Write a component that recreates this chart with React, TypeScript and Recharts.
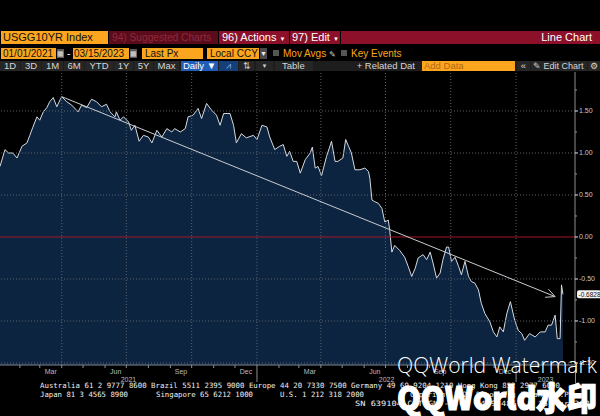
import React from 'react';
import { ComposedChart, Area, XAxis, YAxis, ReferenceLine } from 'recharts';

// Day offsets counted from the first trading day (2021-01-04)
const dayOffsets = [
  0, 7, 12, 18, 24, 31, 38, 42, 46, 52,
  56, 61, 66, 70, 75, 80, 85, 87, 94, 101,
  110, 115, 122, 129, 136, 143, 150, 155, 162, 164,
  169, 174, 181, 185, 190, 196, 202, 209, 214, 221,
  228, 235, 242, 246, 254, 261, 265, 272, 279, 284,
  291, 298, 305, 310, 315, 324, 329, 333, 340, 347,
  357, 362, 369, 376, 380, 387, 394, 399, 404, 408,
  413, 418, 423, 430, 437, 440, 444, 448, 453, 460,
  464, 467, 472, 476, 483, 487, 491, 495, 500, 507,
  514, 519, 521, 524, 528, 533, 538, 542, 547, 549,
  552, 556, 563, 570, 575, 580, 585, 589, 596, 601,
  606, 610, 615, 620, 624, 629, 632, 636, 641, 646,
  650, 655, 660, 664, 669, 674, 678, 683, 690, 695,
  700, 704, 709, 714, 719, 725, 730, 735, 739, 746,
  754, 761, 768, 772, 777, 782, 785, 789, 791, 793,
];

const indexValues = [
  0.84, 1.04, 1.0, 1.0, 0.94, 1.08, 1.12, 1.21, 1.3, 1.43,
  1.39, 1.49, 1.54, 1.61, 1.66, 1.55, 1.64, 1.67, 1.61, 1.57,
  1.49, 1.57, 1.54, 1.64, 1.61, 1.55, 1.58, 1.49, 1.43, 1.49,
  1.39, 1.43, 1.37, 1.27, 1.33, 1.14, 1.21, 1.19, 1.12, 1.27,
  1.19, 1.29, 1.25, 1.29, 1.25, 1.29, 1.43, 1.45, 1.53, 1.41,
  1.59, 1.51, 1.45, 1.33, 1.47, 1.47, 1.33, 1.12, 1.23, 1.18,
  1.21, 1.16, 1.33, 1.31, 1.19, 1.04, 1.08, 1.1, 0.96, 1.02,
  0.9, 0.9, 0.76, 0.92, 1.0, 1.07, 0.82, 0.84, 0.73, 0.96,
  1.06, 1.14, 0.9, 0.9, 0.94, 1.16, 1.08, 1.0, 0.8, 0.8,
  0.82, 0.78, 0.7, 0.44, 0.42, 0.4, 0.34, 0.18, 0.2, 0.08,
  -0.18, -0.1, -0.16, -0.24, -0.35, -0.47, -0.37, -0.25, -0.21, -0.27,
  -0.18, -0.31, -0.49, -0.43, -0.27, -0.12, -0.12, -0.29, -0.24, -0.35,
  -0.45, -0.29, -0.47, -0.53, -0.55, -0.63, -0.79, -0.91, -1.01, -1.13,
  -1.19, -1.07, -1.13, -0.91, -0.77, -0.99, -1.11, -1.15, -1.23, -1.15,
  -1.19, -1.13, -1.13, -1.05, -1.05, -0.93, -1.21, -1.21, -0.57, -0.6828,
];

const lastValue = -0.6828;

// Trend arrow (drawn on the chart): from the 2021 peak to the latest level
const trendStart = { day: 87, value: 1.67 };
const trendEnd = { day: 782, value: -0.71 };

// Month starts (day offsets) used for the small axis ticks
const monthStarts = [28, 56, 87, 117, 148, 178, 209, 240, 270, 301, 331, 362, 393, 421, 452, 482, 513, 543, 574, 605, 635, 666, 696, 727, 758, 786];
const yearStarts = [362, 727];
// Labelled months: name, start and end offsets
const monthLabelNames = ['Mar', 'Jun', 'Sep', 'Dec', 'Mar', 'Jun', 'Sep', 'Dec'];
const monthLabelStarts = [56, 148, 240, 331, 421, 513, 605, 696];
const monthLabelEnds = [87, 178, 270, 362, 452, 543, 635, 727];
const yearLabelNames = ['2021', '2022', '2023'];
const yearLabelStarts = [0, 362, 727];
const yearLabelEnds = [362, 727, 810];

const yTicks = [-1.5, -1.25, -1, -0.75, -0.5, -0.25, 0, 0.25, 0.5, 0.75, 1, 1.25, 1.5, 1.75];
const yGridValues = [1.5, 1, 0.5, -0.5, -1, -1.5];

const chartData = dayOffsets.map((d, i) => ({ day: d, value: indexValues[i] }));

type TickKind = { type: 'tick' | 'month' | 'year'; label?: string; yearStart?: boolean };
const tickKinds = new Map<number, TickKind>();
monthStarts.forEach((m) => tickKinds.set(m, { type: 'tick', yearStart: yearStarts.includes(m) }));
monthLabelNames.forEach((n, i) => tickKinds.set((monthLabelStarts[i] + monthLabelEnds[i]) / 2, { type: 'month', label: n }));
yearLabelNames.forEach((n, i) => tickKinds.set((yearLabelStarts[i] + yearLabelEnds[i]) / 2, { type: 'year', label: n }));
const xTicks = Array.from(tickKinds.keys()).sort((a, b) => a - b);

const XTick = (props: any) => {
  const { x, y, payload } = props;
  const k = tickKinds.get(payload.value);
  if (!k) return null;
  if (k.type === 'tick') {
    return <line x1={x} x2={x} y1={y} y2={y + (k.yearStart ? 17 : 3)} stroke="#8a8f96" strokeWidth={1} />;
  }
  if (k.type === 'month') {
    return (
      <text x={x} y={y + 9} textAnchor="middle" fontSize={7} fill="#b9bcc0" fontFamily="Liberation Sans">
        {k.label}
      </text>
    );
  }
  return (
    <text x={x} y={y + 16.5} textAnchor="middle" fontSize={7} fill="#b9bcc0" fontFamily="Liberation Sans">
      {k.label}
    </text>
  );
};

const YTick = (props: any) => {
  const { x, y, payload } = props;
  const v = payload.value as number;
  const major = Math.abs(v * 2 - Math.round(v * 2)) < 1e-6;
  return (
    <g>
      <line x1={x} x2={x + (major ? 3 : 2)} y1={y} y2={y} stroke={major ? '#e6e6e6' : '#9a9a9a'} strokeWidth={1} />
      {major && (
        <text x={x + 4} y={y + 2.5} fontSize={7} fill="#c9c9c9" fontFamily="Liberation Sans">
          {v.toFixed(2)}
        </text>
      )}
    </g>
  );
};

const TrendArrow = (props: any) => {
  const { x1, y1, x2, y2 } = props;
  if ([x1, y1, x2, y2].some((n) => typeof n !== 'number' || isNaN(n))) return null;
  const ang = Math.atan2(y2 - y1, x2 - x1) + Math.PI;
  const len = 10;
  const spread = 0.45;
  const w1x = x2 + len * Math.cos(ang - spread);
  const w1y = y2 + len * Math.sin(ang - spread);
  const w2x = x2 + len * Math.cos(ang + spread);
  const w2y = y2 + len * Math.sin(ang + spread);
  return (
    <g>
      <line x1={x1} y1={y1} x2={x2} y2={y2} stroke="#c9ccd0" strokeWidth={1} />
      <polyline points={`${w1x},${w1y} ${x2},${y2} ${w2x},${w2y}`} fill="none" stroke="#c9ccd0" strokeWidth={1} />
    </g>
  );
};

const LastTag = (props: any) => {
  const { viewBox } = props;
  if (!viewBox) return null;
  const x = viewBox.x + viewBox.width + 2;
  const y = viewBox.y;
  return (
    <g>
      <rect x={x} y={y - 4} width={24} height={8} rx={2} fill="#f2f2f2" />
      <text x={x + 1.5} y={y + 2.5} fontSize={6.5} fill="#111" fontFamily="Liberation Sans">
        {lastValue.toFixed(4)}
      </text>
    </g>
  );
};

const Cell = ({ l, t, w, h, bg, color, fs, children, align, pl, pr, weight }: any) => (
  <div
    style={{
      position: 'absolute',
      left: l,
      top: t,
      width: w,
      height: h,
      background: bg || 'transparent',
      color: color || '#fff',
      fontSize: fs || 10,
      lineHeight: `${h}px`,
      textAlign: align || 'left',
      paddingLeft: pl || 0,
      paddingRight: pr || 0,
      boxSizing: 'border-box',
      whiteSpace: 'nowrap',
      overflow: 'hidden',
      fontWeight: weight || 'normal',
    }}
  >
    {children}
  </div>
);

const ORANGE = '#fba61e';
const RED = '#8c1029';

export default function App() {
  return (
    <div
      style={{
        position: 'absolute',
        left: 0,
        top: 0,
        width: 600,
        height: 416,
        background: '#000',
        overflow: 'hidden',
        fontFamily: 'Liberation Sans, Arial, sans-serif',
      }}
    >
      {/* Row 1 */}
      <Cell l={1} t={31} w={107} h={13} bg={ORANGE} color="#111" fs={11} pl={2}>USGG10YR Index</Cell>
      <Cell l={109} t={31} w={109} h={13} bg="#5a0c1b" color="#93283d" fs={10.2} pl={3}>94) Suggested Charts</Cell>
      <Cell l={219} t={31} w={70} h={13} bg={RED} color="#fff" fs={11} pl={3}>96) Actions <span style={{ fontSize: 6 }}>▼</span></Cell>
      <Cell l={290} t={31} w={50} h={13} bg={RED} color="#fff" fs={11} pl={2}>97) Edit <span style={{ fontSize: 6 }}>▼</span></Cell>
      <Cell l={341} t={31} w={259} h={13} bg={RED} color="#fff" fs={11} align="right" pr={8}>Line Chart</Cell>

      {/* Row 2 */}
      <Cell l={1} t={48} w={55} h={11} bg={ORANGE} color="#111" fs={10} pl={2}>01/01/2021</Cell>
      <Cell l={57} t={49} w={7} h={9} bg="#5a5a5a" color="#ddd" fs={7} align="center">▦</Cell>
      <Cell l={67} t={48} w={5} h={11} color="#fff" fs={10}>-</Cell>
      <Cell l={73} t={48} w={56} h={11} bg={ORANGE} color="#111" fs={10} pl={1}>03/15/2023</Cell>
      <Cell l={130} t={49} w={7} h={9} bg="#5a5a5a" color="#ddd" fs={7} align="center">▦</Cell>
      <Cell l={142} t={48} w={61} h={11} bg={ORANGE} color="#111" fs={10} pl={3}>Last Px</Cell>
      <Cell l={207} t={48} w={52} h={11} bg={ORANGE} color="#111" fs={10} pl={3}>Local CCY</Cell>
      <Cell l={260} t={48} w={7} h={11} bg="#4a4a4a" color="#eee" fs={7} align="center">▼</Cell>
      <Cell l={273} t={50} w={6} h={6} bg="#555" />
      <Cell l={283} t={48} w={56} h={11} color={ORANGE} fs={10}>Mov Avgs <span style={{ color: '#ccc', fontSize: 8 }}>✎</span></Cell>
      <Cell l={341} t={50} w={6} h={6} bg="#555" />
      <Cell l={351} t={48} w={60} h={11} color={ORANGE} fs={10}>Key Events</Cell>

      {/* Row 3 */}
      <Cell l={0} t={61} w={600} h={10} bg="#1d1d1d" />
      {[
        ['1D', 0, 20], ['3D', 21, 20], ['1M', 42, 21], ['6M', 64, 20], ['YTD', 85, 28],
        ['1Y', 114, 19], ['5Y', 134, 19], ['Max', 154, 25],
      ].map(([t, l, w]: any) => (
        <Cell key={t} l={l} t={61} w={w} h={10} bg="#262626" color="#d6d6d6" fs={9.5} align="center">{t}</Cell>
      ))}
      <Cell l={181} t={61} w={37} h={10} bg="#1f5db8" color="#fff" fs={9.5} align="center">Daily ▼</Cell>
      <Cell l={219} t={61} w={19} h={10} bg="#163f78" color="#8fb5ff" fs={9} align="center">⩘</Cell>
      <Cell l={239} t={61} w={15} h={10} bg="#262626" color="#cfcfcf" fs={9} align="center">⇅</Cell>
      <Cell l={256} t={61} w={17} h={10} bg="#262626" color="#cfcfcf" fs={6} align="center">▼</Cell>
      <Cell l={275} t={61} w={38} h={10} bg="#262626" color="#d6d6d6" fs={9.5} pl={7}>Table</Cell>
      <Cell l={314} t={61} w={103} h={10} bg="#1d1d1d" color="#d6d6d6" fs={9.5} align="right" pr={2}>+ Related Dat</Cell>
      <Cell l={422} t={61} w={93} h={10} bg={ORANGE} color="#b0681a" fs={9.5} pl={2}>Add Data</Cell>
      <Cell l={517} t={61} w={13} h={10} bg="#262626" color="#d6d6d6" fs={9.5} align="center">«</Cell>
      <Cell l={531} t={61} w={56} h={10} bg="#262626" color="#d6d6d6" fs={9} pl={2}>✎ Edit Chart</Cell>
      <Cell l={588} t={61} w={12} h={10} bg="#262626" color="#d6d6d6" fs={9} align="center">⚙</Cell>

      {/* Chart */}
      <div style={{ position: 'absolute', left: 0, top: 72, width: 600, height: 344 }}>
        <ComposedChart width={600} height={344} data={chartData} margin={{ top: 0, right: 0, bottom: 0, left: 0 }}>
          <XAxis
            dataKey="day"
            type="number"
            domain={[0, 810]}
            ticks={xTicks}
            interval={0}
            tick={<XTick />}
            tickLine={false}
            tickSize={0}
            tickMargin={0}
            height={51}
            axisLine={{ stroke: '#7d8894', strokeWidth: 1 }}
            allowDataOverflow
          />
          <YAxis
            orientation="right"
            type="number"
            domain={[-1.524, 1.964]}
            ticks={yTicks}
            interval={0}
            tick={<YTick />}
            tickLine={false}
            tickSize={0}
            tickMargin={0}
            width={25}
            axisLine={{ stroke: '#8e8e8e', strokeWidth: 1 }}
            allowDataOverflow
          />
          <Area
            type="linear"
            dataKey="value"
            baseValue="dataMin"
            stroke="#d5dae0"
            strokeWidth={1}
            fill="#0c2440"
            fillOpacity={1}
            isAnimationActive={false}
            dot={false}
            activeDot={false}
          />
          {yGridValues.map((v) => (
            <ReferenceLine key={`h${v}`} y={v} stroke="#5d6268" strokeDasharray="1 2" strokeWidth={1} />
          ))}
          {monthLabelEnds.map((d) => (
            <ReferenceLine key={`v${d}`} x={d} stroke="#5d6268" strokeDasharray="1 2" strokeWidth={1} />
          ))}
          <ReferenceLine y={0} stroke="#a3162c" strokeWidth={1} />
          <ReferenceLine
            segment={[
              { x: trendStart.day, y: trendStart.value },
              { x: trendEnd.day, y: trendEnd.value },
            ]}
            shape={(p: any) => <TrendArrow {...p} />}
            ifOverflow="visible"
          />
          <ReferenceLine y={lastValue} stroke="none" label={<LastTag />} />
        </ComposedChart>
      </div>

      {/* Right axis extension below plot */}
      <div style={{ position: 'absolute', left: 575, top: 365, width: 1, height: 18, background: '#8e8e8e' }} />

      {/* Footer and watermark */}
      <svg width={600} height={416} style={{ position: 'absolute', left: 0, top: 0, pointerEvents: 'none' }}>
        <g fontFamily="DejaVu Sans Mono" fontSize={7.3} fill="#f0f0f0">
          <text x={40} y={388} textLength={520} lengthAdjust="spacingAndGlyphs">
            Australia 61 2 9777 8600 Brazil 5511 2395 9000 Europe 44 20 7330 7500 Germany 49 69 9204 1210 Hong Kong 852 2977 6000
          </text>
          <text x={40} y={396.5} textLength={88} lengthAdjust="spacingAndGlyphs">Japan 81 3 4565 8900</text>
          <text x={156} y={396.5} textLength={97} lengthAdjust="spacingAndGlyphs">Singapore 65 6212 1000</text>
          <text x={280} y={396.5} textLength={84} lengthAdjust="spacingAndGlyphs">U.S. 1 212 318 2000</text>
          <text x={410} y={396.5} textLength={163} lengthAdjust="spacingAndGlyphs">Copyright 2023 Bloomberg Finance L.P.</text>
          <text x={355} y={405.5} textLength={240} lengthAdjust="spacingAndGlyphs">SN 639104 CDT GMT-5:00 H449-4857-0 15-Mar-2023</text>
        </g>
        <text x={397} y={373} fontFamily="Open Sans" fontWeight={300} fontSize={22} fill="#ffffff" textLength={200} lengthAdjust="spacingAndGlyphs">
          QQWorld Watermark
        </text>
        <text x={397} y={410} fontFamily="Noto Sans CJK SC" fontWeight={900} fontSize={32} fill="#ffffff" stroke="#ffffff" strokeWidth={1.2} textLength={200} lengthAdjust="spacingAndGlyphs">
          QQWorld水印
        </text>
      </svg>
    </div>
  );
}
